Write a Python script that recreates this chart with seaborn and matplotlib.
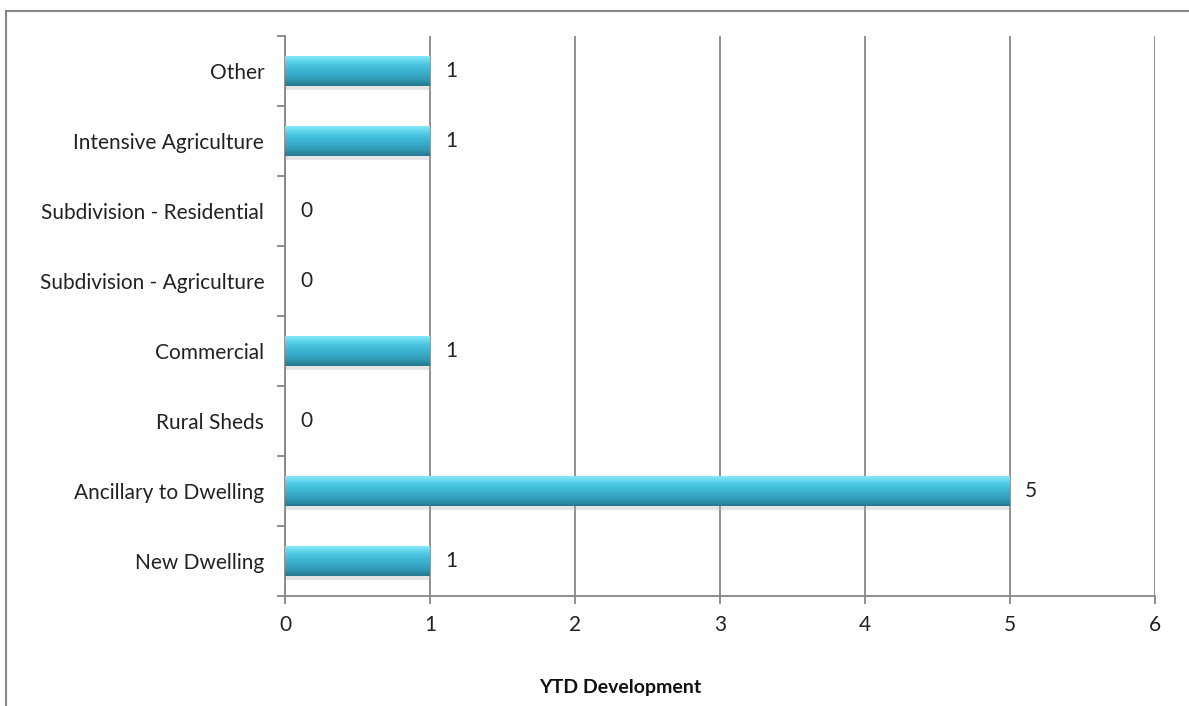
import numpy as np
import pandas as pd
import matplotlib
matplotlib.use("Agg")
import matplotlib.pyplot as plt
import matplotlib.patheffects as pe
from matplotlib.lines import Line2D
from matplotlib.colors import LinearSegmentedColormap
import seaborn as sns

categories = ["Other", "Intensive Agriculture", "Subdivision - Residential",
              "Subdivision - Agriculture", "Commercial", "Rural Sheds",
              "Ancillary to Dwelling", "New Dwelling"]
values = [1, 1, 0, 0, 1, 0, 5, 1]
x_ticks = [0, 1, 2, 3, 4, 5, 6]
x_title = "YTD Development"

df = pd.DataFrame({"category": categories, "value": values})

sns.set_theme(style="white")
plt.rcParams["font.family"] = ["Lato", "DejaVu Sans"]

W, H = 1189, 706
fig = plt.figure(figsize=(W / 100, H / 100), dpi=100)
ax = fig.add_axes([285 / W, 1 - 596 / H, (1155 - 285) / W, (596 - 36) / H])

gray = "#878787"
fs = 15
sns.barplot(data=df, y="category", x="value", order=categories, orient="h",
            color="#3fb6d4", width=0.42, ax=ax, zorder=3, linewidth=0)

ax.set_xlim(0, 6)
ax.set_xticks(x_ticks)
ax.set_ylim(7.5, -0.5)

# gradient fill over each bar
grad = LinearSegmentedColormap.from_list(
    "bar", ["#86e9f9", "#58cfe9", "#41bbd8", "#38abc9", "#3098b3", "#25788f"])
gimg = np.linspace(0, 1, 64).reshape(-1, 1)
for p in ax.patches:
    x0, y0, w, h = p.get_x(), p.get_y(), p.get_width(), p.get_height()
    if w <= 0:
        continue
    p.set_path_effects([pe.SimplePatchShadow(offset=(1, -3), shadow_rgbFace="#aaaaaa", alpha=0.3), pe.Normal()])
    im = ax.imshow(gimg, cmap=grad, aspect="auto", extent=[x0, x0 + w, y0 + h, y0],
                   zorder=4, interpolation="bicubic")
    im.set_clip_path(p)
ax.set_xlim(0, 6)
ax.set_ylim(7.5, -0.5)

labels = ax.bar_label(ax.containers[0], padding=11, fontsize=fs, color="#222222")
for t in labels:
    t.set_va("center")

# grid and spines
ax.grid(axis="x", color=gray, linewidth=1.3, zorder=0)
ax.set_axisbelow(True)
for s in ["top", "right"]:
    ax.spines[s].set_visible(False)
for s in ["left", "bottom"]:
    ax.spines[s].set_color(gray)
    ax.spines[s].set_linewidth(1.3)

ax.tick_params(axis="x", which="major", direction="out", length=6, width=1.3,
               color=gray, pad=8, labelsize=fs, labelcolor="#222222", bottom=True)
ax.tick_params(axis="y", which="major", length=0, pad=15, labelsize=fs,
               labelcolor="#222222", left=False)
ax.set_yticks(np.arange(-0.5, 8, 1), minor=True)
ax.tick_params(axis="y", which="minor", direction="out", length=6, width=1.3,
               color=gray, left=True)
ax.set_xlabel("")
ax.set_ylabel("")

fig.text(620 / W, 1 - 688 / H, x_title, ha="center", va="center",
         fontsize=14, fontweight="bold", color="#111111")

# outer chart border (top and left visible)
fig.add_artist(Line2D([6 / W, 1.0], [1 - 11 / H, 1 - 11 / H], transform=fig.transFigure,
                      color=gray, linewidth=1.5))
fig.add_artist(Line2D([6 / W, 6 / W], [1 - 11 / H, 0], transform=fig.transFigure,
                      color=gray, linewidth=1.5))

fig.savefig("out.png", dpi=100, facecolor="white")
